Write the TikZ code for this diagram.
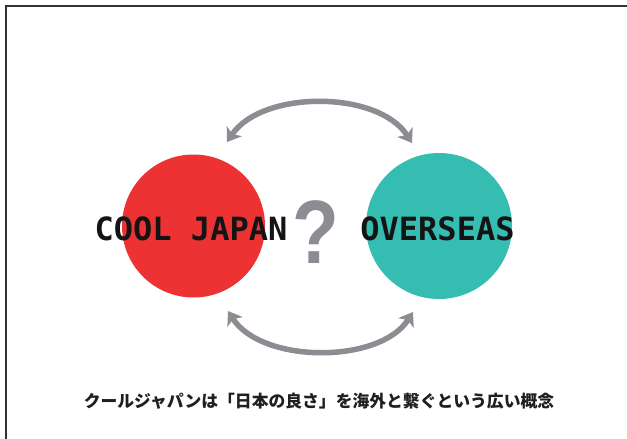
\documentclass[tikz,border=0pt]{standalone}
\usepackage{fontspec}
\usetikzlibrary{arrows.meta}
\newfontfamily\labelfont{DejaVu Sans Mono}
\newfontfamily\qfont{Liberation Sans}
\newfontfamily\cjk{Noto Sans CJK JP}
\definecolor{cjred}{RGB}{236,50,50}
\definecolor{cjteal}{RGB}{54,189,178}
\definecolor{arrgray}{RGB}{140,140,146}
\definecolor{framegray}{RGB}{50,50,50}
\tikzset{
  disc/.style={circle, inner sep=0pt, minimum size=143pt},
  biglabel/.style={anchor=base, inner sep=0pt, font=\labelfont\bfseries\fontsize{32}{32}\selectfont, text=black!92},
  swap arrow/.style={draw=arrgray, line width=5.5pt, {Stealth[length=13pt,width=18pt,inset=3.5pt]}-{Stealth[length=13pt,width=18pt,inset=3.5pt]}},
}
\begin{document}
\begin{tikzpicture}[x=1pt,y=-1pt]
\useasboundingbox (0,0) rectangle (627,439);
% frame (top and left edges visible)
\draw[framegray, line width=2.4pt] (6.2,439) -- (6.2,6.2) -- (627,6.2);
% discs
\node[disc, fill=cjred] (red) at (193.5,226) {};
\node[disc, fill=cjteal, minimum size=146pt] (teal) at (439,226) {};
% labels
\node[biglabel] (cool) at (191,240) {COOL JAPAN};
\node[biglabel] (over) at (437.5,240) {OVERSEAS};
\node[anchor=base, inner sep=0pt, text=arrgray, font=\qfont\bfseries\fontsize{90}{90}\selectfont, xscale=0.85] (q) at (315.5,263) {?};
% arrow end points
\coordinate (tl) at (227,142);
\coordinate (tr) at (412,143);
\coordinate (bl) at (228,311);
\coordinate (br) at (413,312);
\draw[swap arrow] (tl) .. controls (262,90) and (378,90) .. (tr);
\draw[swap arrow] (bl) .. controls (262,364) and (380,364) .. (br);
% caption
\node[anchor=base, inner sep=0pt, text=black!88, font=\cjk\bfseries\fontsize{16.8}{16.8}\selectfont] (cap) at (319,407) {クールジャパンは「日本の良さ」を海外と繋ぐという広い概念};
\end{tikzpicture}
\end{document}
